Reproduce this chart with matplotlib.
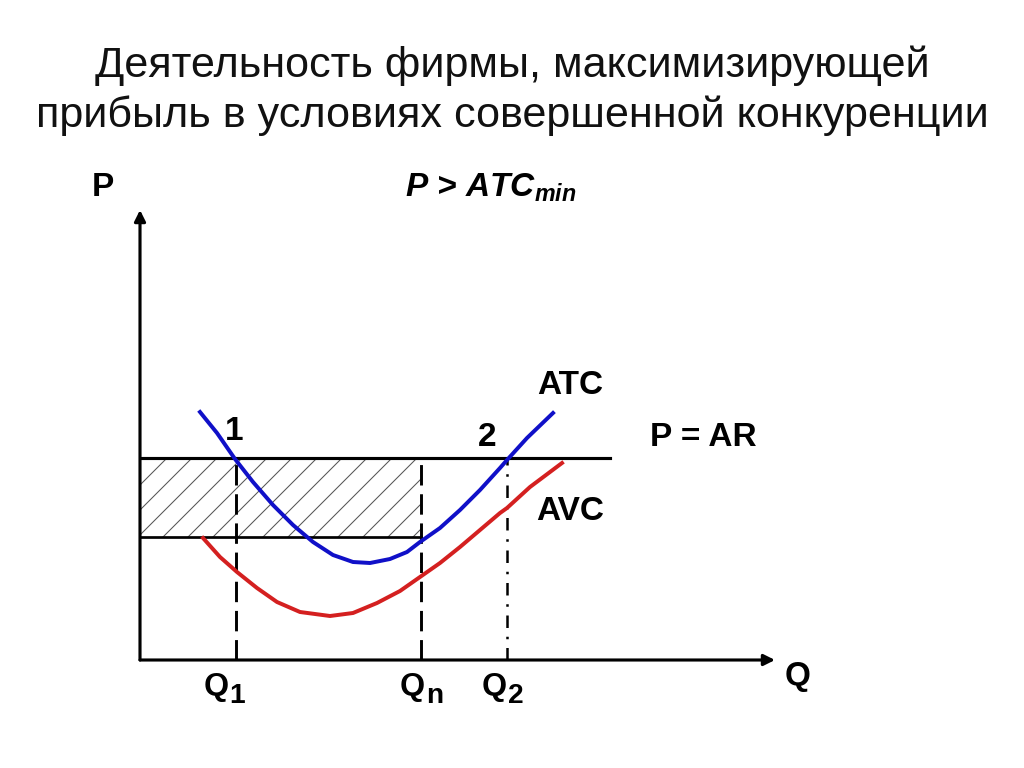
"""Фирма в условиях совершенной конкуренции: P > ATCmin."""
import matplotlib
matplotlib.use("Agg")
import matplotlib.pyplot as plt

plt.rcParams["font.family"] = ["Liberation Sans", "DejaVu Sans"]
plt.rcParams["mathtext.fontset"] = "custom"
plt.rcParams["mathtext.rm"] = "Liberation Sans"
plt.rcParams["mathtext.it"] = "Liberation Sans:italic"
plt.rcParams["mathtext.bf"] = "Liberation Sans:bold"
plt.rcParams["mathtext.bfit"] = "Liberation Sans:italic:bold"
plt.rcParams["hatch.linewidth"] = 0.5
plt.rcParams["hatch.color"] = "#444444"

# данные (условные единицы: Q вправо, P вверх)
atc_q = [60, 77, 95, 113, 133, 153, 173, 193, 213, 230, 250, 267, 280, 300, 320, 340, 360, 367, 387, 413]
atc_p = [248, 227, 201, 178, 155, 135, 118, 105, 98, 97, 101, 108, 118, 132, 150, 170, 192, 200, 222, 247]
avc_q = [63, 80, 97, 117, 137, 160, 190, 213, 237, 260, 280, 300, 320, 340, 360, 367, 390, 422]
avc_p = [122, 103, 88, 72, 58, 48, 44, 47, 57, 69, 83, 97, 113, 130, 147, 152, 173, 197]
price = 202
price_q_end = 470
atc_at_qn = 123
q1, qn, q2 = 96, 281, 367
q_max, p_max = 635, 450
q_labels = [("Q", "1", 64), ("Q", "n", 260), ("Q", "2", 342)]

DPI = 150
fig = plt.figure(figsize=(1024 / DPI, 768 / DPI), dpi=DPI)
ax = fig.add_axes([140 / 1024, 108 / 768, 635 / 1024, 450 / 768])
ax.set_xlim(0, q_max); ax.set_ylim(0, p_max)
ax.axis("off")

fig.text(0.5, 1 - 77 / 768, "Деятельность фирмы, максимизирующей", ha="center",
         va="baseline", fontsize=20.7, color="#111111")
fig.text(0.5, 1 - 127 / 768, "прибыль в условиях совершенной конкуренции", ha="center",
         va="baseline", fontsize=20.7, color="#111111")

# оси со стрелками
arrow = dict(arrowstyle="-|>", lw=1.5, color="black", mutation_scale=11, shrinkA=0, shrinkB=0)
ax.annotate("", xy=(0, p_max), xytext=(0, 0), arrowprops=arrow, annotation_clip=False)
ax.annotate("", xy=(q_max, 0), xytext=(0, 0), arrowprops=arrow, annotation_clip=False)

# прибыль (заштрихованная область)
ax.fill_between([0, qn], atc_at_qn, price, facecolor="none", edgecolor="#555555",
                hatch="//", linewidth=0)
ax.plot([0, qn], [atc_at_qn, atc_at_qn], color="black", lw=1.3)
ax.plot([0, price_q_end], [price, price], color="black", lw=1.5)

# вертикали
ax.plot([q1, q1], [0, price], color="black", lw=1.4, ls=(0, (7, 3)))
ax.plot([qn, qn], [0, price], color="black", lw=1.4, ls=(0, (7, 3)))
ax.plot([q2, q2], [0, price], color="black", lw=1.2, ls=(0, (5, 3.5, 1, 3.5)))

ax.plot(avc_q, avc_p, color="#d42020", lw=1.9, solid_joinstyle="round")
ax.plot(atc_q, atc_p, color="#1010c8", lw=1.9, solid_joinstyle="round")

bold = dict(fontsize=16, fontweight="bold", ha="center", va="center", clip_on=False)
ax.text(-37, 472, "P", **bold)
ax.text(265, 463, r"P > ATC$_{\mathbfit{min}}$", fontsize=16, fontweight="bold",
        fontstyle="italic", ha="left", va="baseline")
ax.text(430, 275, "ATC", **bold)
ax.text(430, 149, "AVC", **bold)
ax.text(563, 223, "P = AR", **bold)
ax.text(94, 228, "1", **bold)
ax.text(347, 223, "2", **bold)
ax.text(658, -17, "Q", **bold)
for main, sub, qx in q_labels:
    ax.text(qx, -35, main, fontsize=15.5, fontweight="bold", ha="left", va="baseline")
    ax.annotate(sub, xy=(qx, -35), xytext=(12.3, -3.9), textcoords="offset points",
                fontsize=13.5, fontweight="bold", ha="left", va="baseline",
                annotation_clip=False)

fig.savefig("out.png", dpi=DPI, facecolor="white")
